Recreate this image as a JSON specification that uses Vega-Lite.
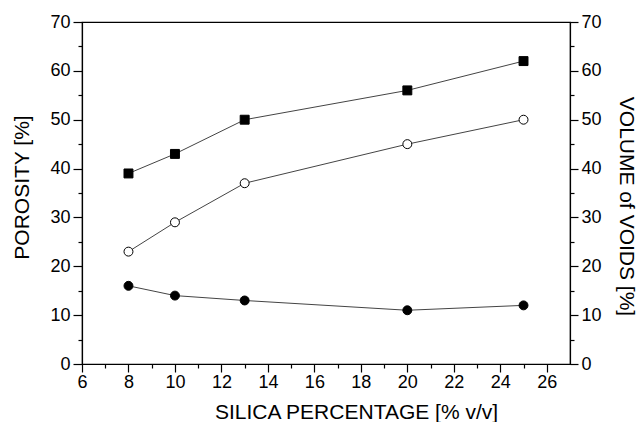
{
  "$schema": "https://vega.github.io/schema/vega-lite/v6.json",
  "width": 488,
  "height": 342,
  "autosize": "none",
  "padding": {"left": 82, "top": 22, "right": 69, "bottom": 58},
  "background": "white",
  "config": {
    "font": "Liberation Sans",
    "view": {"stroke": "black", "strokeWidth": 1.2},
    "axis": {
      "grid": false,
      "domainColor": "black",
      "domainWidth": 1.2,
      "tickColor": "black",
      "tickWidth": 1.2,
      "labelColor": "black",
      "titleColor": "black",
      "labelFontSize": 18,
      "titleFontSize": 21,
      "titleFontWeight": "normal",
      "labelOverlap": false,
      "labelFlush": false
    }
  },
  "data": {
    "values": [
      {"silica": 8, "value": 39, "series": "A"},
      {"silica": 10, "value": 43, "series": "A"},
      {"silica": 13, "value": 50, "series": "A"},
      {"silica": 20, "value": 56, "series": "A"},
      {"silica": 25, "value": 62, "series": "A"},
      {"silica": 8, "value": 23, "series": "B"},
      {"silica": 10, "value": 29, "series": "B"},
      {"silica": 13, "value": 37, "series": "B"},
      {"silica": 20, "value": 45, "series": "B"},
      {"silica": 25, "value": 50, "series": "B"},
      {"silica": 8, "value": 16, "series": "C"},
      {"silica": 10, "value": 14, "series": "C"},
      {"silica": 13, "value": 13, "series": "C"},
      {"silica": 20, "value": 11, "series": "C"},
      {"silica": 25, "value": 12, "series": "C"}
    ]
  },
  "encoding": {
    "x": {
      "field": "silica",
      "type": "quantitative",
      "scale": {"domain": [6, 27], "nice": false, "zero": false},
      "axis": {
        "title": "SILICA PERCENTAGE [% v/v]",
        "values": [6, 7, 8, 9, 10, 11, 12, 13, 14, 15, 16, 17, 18, 19, 20, 21, 22, 23, 24, 25, 26],
        "labelExpr": "datum.value % 2 == 0 ? datum.label : ''",
        "tickSize": {"condition": {"test": "datum.value % 2 == 1", "value": 4}, "value": 8},
        "labelPadding": 1,
        "titleX": 274,
        "titleY": 54,
        "titleAlign": "center",
        "titleBaseline": "alphabetic"
      }
    }
  },
  "layer": [
    {
      "mark": {"type": "line", "color": "#444444", "strokeWidth": 1},
      "encoding": {
        "y": {
          "field": "value",
          "type": "quantitative",
          "scale": {"domain": [0, 70], "nice": false},
          "axis": {
            "title": "POROSITY [%]",
            "orient": "left",
            "values": [0, 5, 10, 15, 20, 25, 30, 35, 40, 45, 50, 55, 60, 65, 70],
            "labelExpr": "datum.value % 10 == 0 ? datum.label : ''",
            "tickSize": {"condition": {"test": "datum.value % 10 == 5", "value": 4}, "value": 9},
            "labelPadding": 3,
            "titleX": -60,
            "titleY": 165,
            "titleAngle": -90,
            "titleAlign": "center",
            "titleBaseline": "middle"
          }
        },
        "detail": {"field": "series"}
      }
    },
    {
      "mark": {"type": "point", "opacity": 1, "strokeWidth": 1, "stroke": "black"},
      "encoding": {
        "y": {
          "field": "value",
          "type": "quantitative",
          "scale": {"domain": [0, 70], "nice": false},
          "axis": {
            "title": "VOLUME of VOIDS [%]",
            "orient": "right",
            "values": [0, 5, 10, 15, 20, 25, 30, 35, 40, 45, 50, 55, 60, 65, 70],
            "labelExpr": "datum.value % 10 == 0 ? datum.label : ''",
            "tickSize": {"condition": {"test": "datum.value % 10 == 5", "value": 4}, "value": 8},
            "labelPadding": 3,
            "titleX": 55,
            "titleY": 184,
            "titleAngle": 90,
            "titleAlign": "center",
            "titleBaseline": "middle"
          }
        },
        "shape": {
          "field": "series",
          "type": "nominal",
          "scale": {"domain": ["A", "B", "C"], "range": ["square", "circle", "circle"]},
          "legend": null
        },
        "fill": {
          "field": "series",
          "type": "nominal",
          "scale": {"domain": ["A", "B", "C"], "range": ["black", "white", "black"]},
          "legend": null
        },
        "size": {"value": 80}
      }
    }
  ],
  "resolve": {"scale": {"y": "independent"}, "axis": {"y": "independent"}}
}
